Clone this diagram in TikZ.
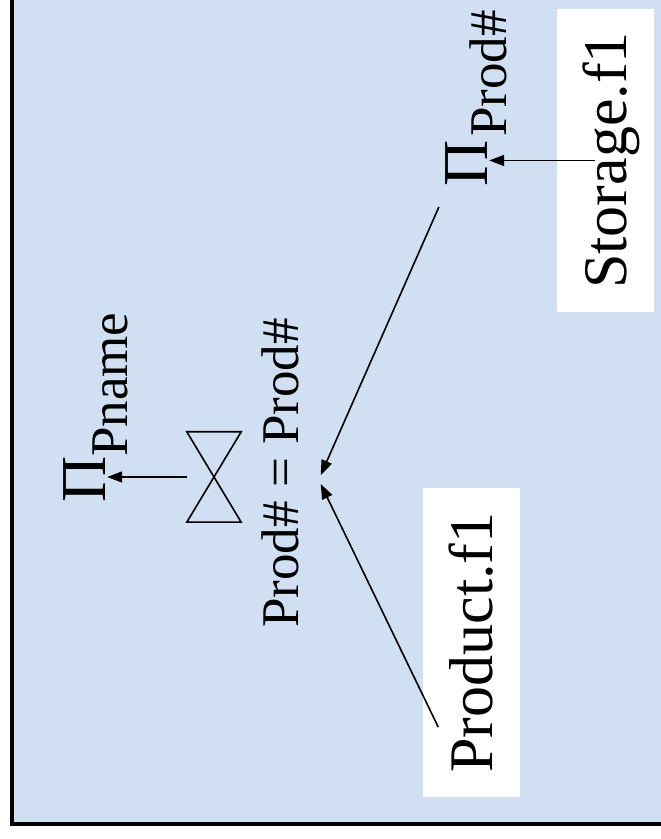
\documentclass[tikz,border=0pt]{standalone}
\usepackage{fontspec}
\setmainfont{Liberation Serif}
\usetikzlibrary{arrows.meta}
\definecolor{slideblue}{RGB}{208,224,242}
\begin{document}
\begin{tikzpicture}[x=1pt, y=-1pt, rotate=90, transform shape]
        \tikzstyle{relation}=[fill=white, inner sep=0pt, minimum height=97pt, text depth=0pt, font=\fontsize{62}{70}\selectfont]
        \tikzstyle{proj}=[inner sep=2pt, anchor=base west, font=\fontsize{64}{70}\selectfont]
        \tikzstyle{projsub}=[inner sep=1pt, anchor=base west, font=\fontsize{53}{60}\selectfont]
        \tikzstyle{flow}=[-{Triangle[length=15pt,width=11pt]}, line width=1.6pt]
        \useasboundingbox (0,0) rectangle (839,661);
        \fill[white] (0,0) rectangle (839,661);
        \draw[line width=4.5pt, fill=slideblue] (15,12) rectangle (860,680);
        % leaves
        \node[relation, minimum width=309pt] (product) at (196.5,471) {Product.f1};
        \node[relation, minimum width=303pt] (storage) at (678.5,605) {Storage.f1};
        % projections
        \node[proj] (pi1) at (334,105) {Π};
        \node[projsub] (pi1sub) at (381,127) {Pname};
        \node[proj] (pi2) at (650,487) {Π};
        \node[projsub] (pi2sub) at (701,506) {Prod\#};
        % join
        \node[minimum width=90pt, minimum height=54pt, inner sep=0pt] (join) at (362,214) {};
        \draw[line width=1.6pt] (join.north west) -- (join.south west) -- (join.north east) -- (join.south east) -- cycle;
        \node[font=\fontsize{53}{60}\selectfont, inner xsep=2pt, inner ysep=22pt, anchor=base] (cond) at (366,298) {Prod\# = Prod\#};
        % arrows
        \draw[flow] (join.north) -- (join.north |- pi1.south);
        \draw[flow] (storage.center) ++(0,-10) -- (storage.center |- pi2.south);
        \draw[flow] (pi2.north west) ++(-18,-4) -- (cond.-93);
        \draw[flow] (product.north west) ++(70,16) -- (cond.-105);
    \end{tikzpicture}
\end{document}
